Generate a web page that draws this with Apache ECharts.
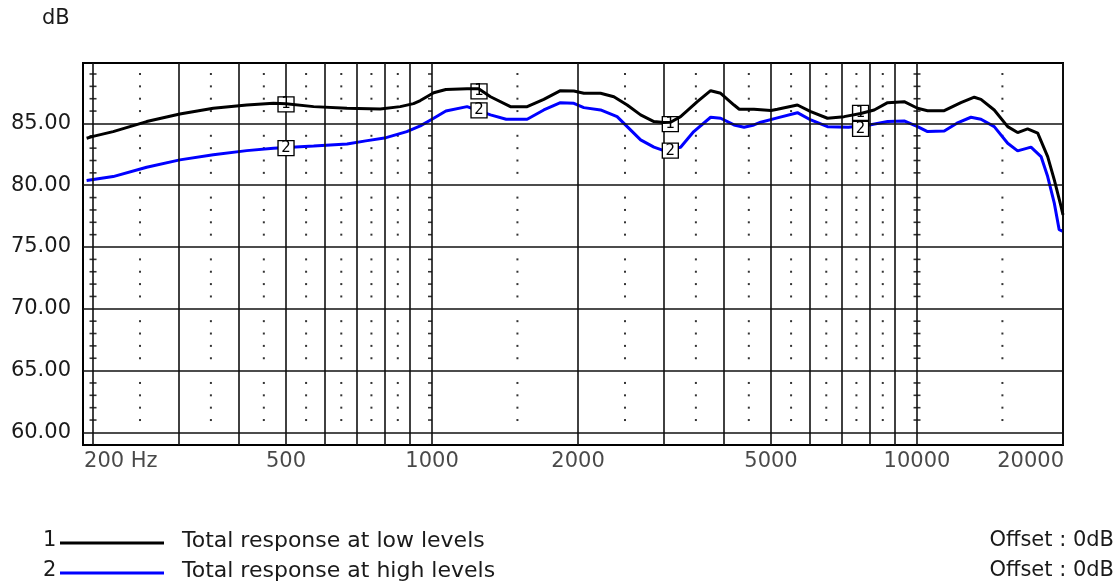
<!DOCTYPE html>
<html><head><meta charset="utf-8">
<script src="https://cdn.jsdelivr.net/npm/echarts@6/dist/echarts.min.js"></script>
<style>html,body{margin:0;padding:0;background:#fff}#c{width:1120px;height:585px}</style>
</head><body><div id="c"></div>
<script>
const FONT = '"DejaVu Sans", Verdana, sans-serif';
const TXT = '#1a1a1a';

// ---- data ----
const freqLow = [194,200,220,258,302,354,415,471,500,570,668,782,860,916,946,1008,1068,1181,1248,1320,1451,1571,1700,1840,1961,2056,2226,2371,2526,2692,2868,3006,3104,3255,3524,3754,3937,4195,4300,4611,5000,5153,5668,6039,6538,7074,7656,8160,8698,9410,10026,10515,11380,12316,13125,13548,14430,15380,16124,16904,17738,18596,19190,19814,20000];
const dbLow   = [83.8,83.95,84.34,85.15,85.77,86.23,86.49,86.63,86.6,86.36,86.23,86.17,86.36,86.6,86.85,87.48,87.74,87.8,87.8,87.16,86.36,86.36,86.95,87.65,87.62,87.44,87.44,87.16,86.49,85.69,85.15,85.07,85.1,85.55,86.76,87.65,87.44,86.49,86.15,86.15,86.05,86.15,86.49,85.95,85.42,85.55,85.8,86.09,86.68,86.76,86.23,86.03,86.03,86.68,87.12,86.95,86.09,84.74,84.26,84.56,84.21,82.32,80.44,78.28,77.6];
const freqHigh = [194,220,258,302,354,415,471,570,668,730,804,887,946,1008,1068,1181,1320,1422,1571,1700,1840,1961,2056,2226,2408,2526,2692,2868,3006,3255,3465,3754,3937,4195,4400,4611,4762,5153,5668,6039,6538,7220,7980,8698,9410,10026,10515,11380,12088,12920,13548,14430,15380,16124,17180,18020,18596,19190,19640,20000];
const dbHigh   = [80.38,80.7,81.46,82.05,82.46,82.8,83.0,83.18,83.34,83.59,83.85,84.34,84.8,85.42,86.0,86.36,85.69,85.34,85.34,86.09,86.68,86.63,86.28,86.09,85.55,84.74,83.67,83.08,82.8,83.08,84.34,85.5,85.42,84.88,84.69,84.88,85.1,85.45,85.87,85.28,84.74,84.69,84.88,85.15,85.2,84.74,84.34,84.39,85.02,85.5,85.34,84.74,83.4,82.78,83.08,82.32,80.7,78.55,76.4,76.26];
const seriesNames = ['Total response at low levels', 'Total response at high levels'];
const seriesIds = ['1', '2'];
const offsetTexts = ['Offset : 0dB', 'Offset : 0dB'];

const markerFreqs = [500, 1250, 3100, 7650];
const markerLow  = [86.55, 87.6, 84.95, 85.85];
const markerHigh = [83.0, 86.05, 82.8, 84.55];

const yTicks = [60, 65, 70, 75, 80, 85];
const xMajor = [200,300,400,500,600,700,800,900,1000,2000,3000,4000,5000,6000,7000,8000,9000,10000,20000];
const xLabelFreqs = [200, 500, 1000, 2000, 5000, 10000, 20000];
const xLabelTexts = ['200 Hz', '500', '1000', '2000', '5000', '10000', '20000'];
const xMinor = [250,350,450,550,650,750,850,1500,2500,3500,4500,5500,6500,7500,8500,15000];
const minorLevels = [61,62,63,64,66,67,68,69,71,72,73,74,76,77,78,79,81,82,83,84,86,87,88,89];
const tickLevels = [59,61,62,63,64,66,67,68,69,71,72,73,74,76,77,78,79,81,82,83,84,86,87,88,89];
const xMin = 190.7, xMax = 20000, yMin = 58.98, yMax = 89.89;

// ---- build ----
const dots = [];
xMinor.forEach(f => minorLevels.forEach(v => dots.push([f, v])));
const crossTicks = [];
[200, 10000].forEach(f => tickLevels.forEach(v => crossTicks.push([f, v])));
const leftTicks = tickLevels.map(v => [1000, v]);

const lineCol = '#111';
const hLines = yTicks.map(v => ({ yAxis: v, label: { show: true, formatter: v.toFixed(2) } }));
const vLines = xMajor.map(f => ({ xAxis: f, label: { show: false } }));

const xLabelData = xLabelFreqs.map((f, i) => {
  const d = { value: [f, yMin], name: xLabelTexts[i] };
  if (i === 0) d.label = { align: 'left', offset: [-9, 0] };
  if (i === xLabelFreqs.length - 1) d.label = { align: 'right', offset: [1, 0] };
  return d;
});

function markers(vals, id) {
  return {
    symbol: 'rect', symbolSize: [16, 15], silent: true,
    itemStyle: { color: '#fff', borderColor: '#000', borderWidth: 1.3 },
    label: { show: true, formatter: id, color: '#000', fontSize: 15, fontFamily: FONT, position: 'inside' },
    data: markerFreqs.map((f, i) => ({ coord: [f, vals[i]] }))
  };
}

const chart = echarts.init(document.getElementById('c'), null, { renderer: 'canvas' });
const legendY = [541, 571];
const legendColors = ['#000000', '#0000ff'];
const graphics = [{ type: 'text', left: 42, top: 8, style: { text: 'dB', font: '21px ' + FONT, fill: TXT } }];
seriesNames.forEach((n, i) => {
  graphics.push({ type: 'text', x: 43, y: legendY[i], style: { text: seriesIds[i], font: '21px ' + FONT, fill: TXT, verticalAlign: 'middle' } });
  graphics.push({ type: 'line', shape: { x1: 60, y1: legendY[i] + 2, x2: 164, y2: legendY[i] + 2 }, style: { stroke: legendColors[i], lineWidth: 3 } });
  graphics.push({ type: 'text', x: 182, y: legendY[i], style: { text: n, font: '22px ' + FONT, fill: TXT, verticalAlign: 'middle' } });
  graphics.push({ type: 'text', x: 1114, y: legendY[i], style: { text: offsetTexts[i], font: '21px ' + FONT, fill: TXT, verticalAlign: 'middle', align: 'right' } });
});

chart.setOption({
  animation: false,
  backgroundColor: '#fff',
  grid: { left: 83, top: 63, width: 980, height: 382, show: true, borderColor: '#000', borderWidth: 2, backgroundColor: '#fff' },
  xAxis: { type: 'log', logBase: 10, min: xMin, max: xMax, axisLine: { show: false }, axisTick: { show: false }, axisLabel: { show: false }, splitLine: { show: false } },
  yAxis: { type: 'value', min: yMin, max: yMax, axisLine: { show: false }, axisTick: { show: false }, axisLabel: { show: false }, splitLine: { show: false } },
  graphic: graphics,
  series: [
    {
      type: 'scatter', name: 'grid', silent: true, z: 1, symbol: 'rect', symbolSize: [2, 2],
      itemStyle: { color: '#000' }, data: dots,
      markLine: {
        silent: true, symbol: 'none', animation: false,
        lineStyle: { color: lineCol, width: 1.6, type: 'solid' },
        label: { position: 'start', distance: 12, color: TXT, fontSize: 21, fontFamily: FONT },
        emphasis: { disabled: true },
        data: hLines.concat(vLines)
      }
    },
    { type: 'scatter', name: 'ticks', silent: true, z: 1, symbol: 'rect', symbolSize: [7, 1.6], itemStyle: { color: '#000' }, data: crossTicks },
    { type: 'scatter', name: 'ticksL', silent: true, z: 1, symbol: 'rect', symbolSize: [4, 1.6], symbolOffset: [-2, 0], itemStyle: { color: '#000' }, data: leftTicks },
    {
      type: 'scatter', name: 'xlabels', silent: true, symbolSize: 0, data: xLabelData,
      label: { show: true, position: 'bottom', distance: 6, formatter: p => p.name, color: TXT, fontSize: 21, fontFamily: FONT }
    },
    {
      type: 'line', name: seriesNames[0], z: 5, symbol: 'none', smooth: false, clip: true,
      lineStyle: { color: '#000', width: 3 }, data: freqLow.map((f, i) => [f, dbLow[i]]),
      markPoint: markers(markerLow, seriesIds[0])
    },
    {
      type: 'line', name: seriesNames[1], z: 4, symbol: 'none', smooth: false, clip: true,
      lineStyle: { color: '#0000ff', width: 3 }, data: freqHigh.map((f, i) => [f, dbHigh[i]]),
      markPoint: markers(markerHigh, seriesIds[1])
    }
  ]
});
</script></body></html>
